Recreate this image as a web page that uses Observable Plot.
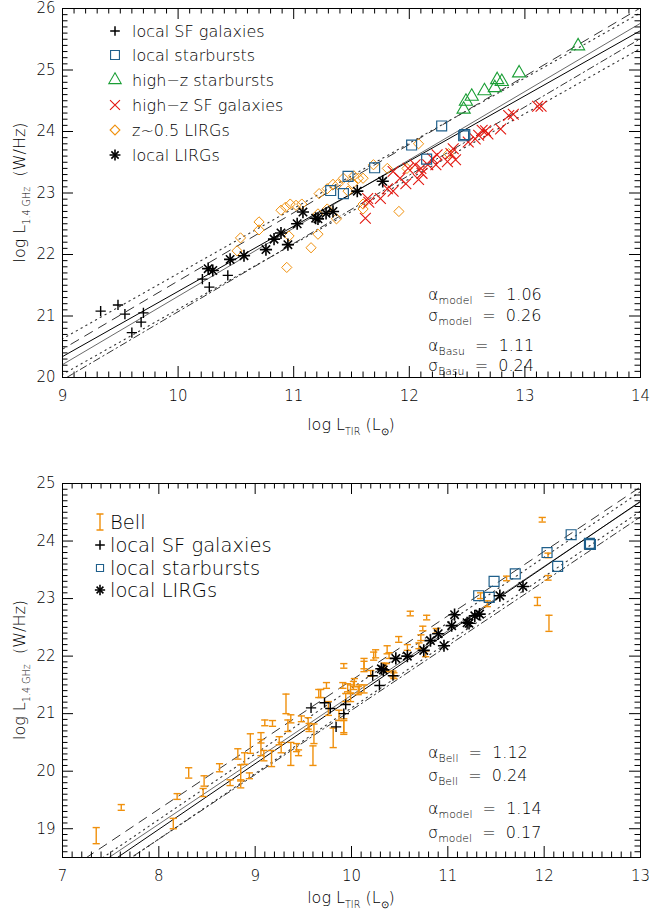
<!DOCTYPE html>
<html><head><meta charset="utf-8">
<script src="https://cdn.jsdelivr.net/npm/d3@7"></script>
<script src="https://cdn.jsdelivr.net/npm/@observablehq/plot@0.6"></script>
<style>
body{margin:0;background:#fff;}
#wrap{width:651px;}
svg{display:block;}
</style></head><body>
<div id="wrap"></div>
<script>
// ---------------- TOP PANEL DATA ----------------
const topLocalSF_x = [9.33, 9.48, 9.54, 9.60, 9.68, 9.70, 10.21, 10.27, 10.43];
const topLocalSF_y = [21.08, 21.18, 21.03, 20.73, 20.90, 21.05, 21.60, 21.47, 21.66];

const topStarburst_x = [11.32, 11.43, 11.47, 11.70, 12.02, 12.15, 12.28, 12.47, 12.48];
const topStarburst_y = [23.04, 22.99, 23.27, 23.41, 23.78, 23.55, 24.09, 23.93, 23.95];

const topHighzSB_x = [12.47, 12.49, 12.54, 12.65, 12.74, 12.76, 12.80, 12.95, 13.46];
const topHighzSB_y = [24.36, 24.49, 24.57, 24.66, 24.71, 24.84, 24.81, 24.95, 25.39];

const topHighzSF_x = [11.62, 11.64, 11.65, 11.75, 11.81, 11.86, 11.86, 11.92, 11.99, 12.05, 12.10, 12.11, 12.16, 12.20, 12.23, 12.24, 12.33, 12.36, 12.38, 12.51, 12.57, 12.60, 12.63, 12.66, 12.68, 12.79, 12.86, 12.90, 13.11, 13.14, 12.40, 11.97, 12.08];
const topHighzSF_y = [22.59, 22.91, 22.85, 22.91, 23.07, 23.03, 23.35, 23.24, 23.40, 23.46, 23.40, 23.32, 23.46, 23.56, 23.46, 23.62, 23.51, 23.64, 23.72, 23.83, 23.88, 23.94, 24.02, 24.01, 23.96, 24.04, 24.26, 24.28, 24.41, 24.41, 23.54, 23.15, 23.22];

const topZ05_x = [10.54, 10.51, 10.70, 10.70, 10.89, 10.93, 10.97, 11.02, 11.07, 10.96, 10.94, 11.15, 11.21, 11.22, 11.29, 11.34, 11.38, 11.43, 11.52, 11.56, 11.60, 11.51, 11.47, 11.60, 11.60, 11.37, 11.29, 11.21, 11.69, 11.81, 11.91, 12.08, 12.34, 11.98];
const topZ05_y = [22.27, 22.06, 22.53, 22.40, 22.72, 22.77, 22.82, 22.80, 22.82, 22.30, 21.79, 22.11, 22.33, 22.99, 23.07, 23.14, 23.14, 23.24, 23.28, 23.24, 23.24, 23.15, 23.03, 22.82, 22.74, 22.58, 22.74, 22.66, 23.46, 23.40, 22.70, 23.80, 23.64, 23.40];

const topLIRG_x = [10.26, 10.30, 10.45, 10.57, 10.76, 10.83, 10.89, 10.95, 11.03, 11.08, 11.19, 11.21, 11.28, 11.34, 11.55, 11.77];
const topLIRG_y = [21.77, 21.74, 21.92, 21.98, 22.08, 22.25, 22.35, 22.16, 22.50, 22.69, 22.59, 22.58, 22.67, 22.70, 23.03, 23.19];

// fits: [model, Basu]
const topFitSlope = [1.06, 1.11];
const topFitIntercept = [10.80, 10.22];
const topFitSpread = [0.29, 0.25];   // dotted (model) and dashed (Basu) band half-widths
const topStats = [["model", "1.06", "0.26"], ["Basu", "1.11", "0.24"]];

// ---------------- BOTTOM PANEL DATA ----------------
const botLocalSF_x = [9.58, 9.72, 9.78, 9.84, 9.94, 9.92, 10.22, 10.29, 10.43];
const botLocalSF_y = [21.10, 21.19, 21.09, 20.77, 21.16, 21.00, 21.66, 21.49, 21.66];

const botStarburst_x = [11.32, 11.43, 11.48, 11.70, 12.03, 12.14, 12.28, 12.47, 12.48];
const botStarburst_y = [23.05, 23.02, 23.30, 23.43, 23.80, 23.56, 24.11, 23.96, 23.94];

const botLIRG_x = [10.31, 10.33, 10.46, 10.58, 10.75, 10.82, 10.90, 10.96, 11.04, 11.07, 11.20, 11.22, 11.28, 11.33, 11.54, 11.78];
const botLIRG_y = [21.78, 21.76, 21.96, 22.00, 22.10, 22.27, 22.39, 22.18, 22.53, 22.72, 22.58, 22.57, 22.70, 22.73, 23.05, 23.21];

const bell_x = [7.35, 7.61, 8.15, 8.19, 8.31, 8.47, 8.46, 8.63, 8.74, 8.82, 8.85, 8.85, 8.94, 8.95, 8.89, 9.06, 9.10, 9.06, 9.18, 9.17, 9.09, 9.25, 9.27, 9.32, 9.34, 9.37, 9.37, 9.43, 9.45, 9.48, 9.55, 9.56, 9.60, 9.61, 9.66, 9.74, 9.76, 9.81, 9.87, 9.92, 9.92, 9.96, 10.02, 10.13, 10.34, 10.44, 10.20, 9.91, 10.25, 10.39, 10.49, 10.58, 10.72, 10.70, 10.77, 10.61, 10.78, 10.74, 10.88, 11.34, 11.41, 11.61, 11.93, 11.98, 12.04, 12.04, 12.05, 9.68, 9.99, 10.07, 10.13, 9.94, 10.13, 10.23, 10.37, 10.36, 10.43, 10.03, 9.99, 10.08, 9.92];
const bell_y = [18.88, 19.37, 19.09, 19.56, 19.97, 19.83, 19.63, 20.06, 19.80, 20.30, 19.97, 19.78, 19.92, 20.48, 20.22, 20.41, 20.84, 20.58, 20.83, 20.22, 20.27, 20.53, 20.41, 21.17, 20.79, 20.91, 20.30, 20.41, 20.32, 20.91, 20.83, 20.76, 20.27, 20.65, 21.35, 21.49, 21.09, 20.58, 20.97, 21.83, 20.79, 21.45, 21.49, 21.82, 21.83, 21.66, 21.70, 21.49, 22.04, 22.01, 22.29, 22.15, 22.32, 22.18, 22.04, 22.74, 22.67, 22.48, 22.44, 23.05, 22.91, 23.35, 22.95, 24.37, 23.36, 23.75, 22.57, 21.35, 21.43, 21.40, 21.43, 21.28, 21.87, 22.00, 22.11, 21.80, 21.69, 21.54, 21.28, 21.43, 20.76];
const bell_err = [0.14, 0.05, 0.09, 0.05, 0.09, 0.09, 0.07, 0.07, 0.05, 0.09, 0.14, 0.07, 0.05, 0.17, 0.10, 0.14, 0.05, 0.09, 0.05, 0.14, 0.09, 0.07, 0.09, 0.17, 0.10, 0.07, 0.20, 0.07, 0.05, 0.05, 0.10, 0.07, 0.17, 0.17, 0.07, 0.05, 0.12, 0.17, 0.09, 0.04, 0.12, 0.07, 0.07, 0.09, 0.05, 0.05, 0.05, 0.05, 0.07, 0.05, 0.05, 0.05, 0.05, 0.05, 0.05, 0.04, 0.04, 0.04, 0.04, 0.05, 0.05, 0.04, 0.07, 0.04, 0.04, 0.04, 0.14, 0.07, 0.07, 0.07, 0.07, 0.07, 0.09, 0.07, 0.07, 0.07, 0.05, 0.07, 0.07, 0.07, 0.12];

// fits: [model, Bell]
const botFitSlope = [1.14, 1.12];
const botFitIntercept = [9.87, 10.12];
const botFitSpread = [0.17, 0.26];
const botStats = [["Bell", "1.12", "0.24"], ["model", "1.14", "0.17"]];

// ---------------- STYLE ----------------
const FONT = "DejaVu Sans";
const ORANGE = "#f0900c", BLUE = "#1f5f8b", GREEN = "#1a9e35", RED = "#e3170f", GRAY = "#6a6a6a";
const W = 651, ML = 62, MR = 11;

const zip = (xs, ys) => xs.map((x, i) => ({x, y: ys[i]}));

function frameTicks(xd, yd, pw, ph) {
  const isInt = d => Math.abs(d - Math.round(d)) < 1e-6;
  const xs = d3.range(Math.round(xd[0]*10), Math.round(xd[1]*10) + 1).map(d => d/10);
  const ys = d3.range(Math.round(yd[0]*10), Math.round(yd[1]*10) + 1).map(d => d/10);
  const xMaj = xs.filter(isInt), xMin = xs.filter(d => !isInt(d));
  const yMaj = ys.filter(isInt), yMin = ys.filter(d => !isInt(d));
  const M = 11, m = 5.5, o = {stroke: "#000", strokeWidth: 1};
  return {xMaj, yMaj, marks: [
    Plot.tickX(xMaj, {x: d => d, insetTop: ph - M, ...o}),
    Plot.tickX(xMaj, {x: d => d, insetBottom: ph - M, ...o}),
    Plot.tickX(xMin, {x: d => d, insetTop: ph - m, ...o}),
    Plot.tickX(xMin, {x: d => d, insetBottom: ph - m, ...o}),
    Plot.tickY(yMaj, {y: d => d, insetRight: pw - M, ...o}),
    Plot.tickY(yMaj, {y: d => d, insetLeft: pw - M, ...o}),
    Plot.tickY(yMin, {y: d => d, insetRight: pw - m, ...o}),
    Plot.tickY(yMin, {y: d => d, insetLeft: pw - m, ...o})
  ]};
}

function fitLines(xd, slopes, intercepts, spreads, colors) {
  const out = [];
  const seg = (a, b, off) => [xd[0] - 1, xd[1] + 1].map(x => ({x, y: a*x + b + off}));
  out.push(Plot.line(seg(slopes[1], intercepts[1], 0), {x: "x", y: "y", stroke: colors[1], strokeWidth: 1, clip: true}));
  out.push(Plot.line(seg(slopes[0], intercepts[0], 0), {x: "x", y: "y", stroke: colors[0], strokeWidth: 1, clip: true}));
  // literature band: dashed above, dash-dot below; model band: dotted
  out.push(Plot.line(seg(slopes[1], intercepts[1], spreads[1]), {x: "x", y: "y", stroke: "#333", strokeWidth: 1, strokeDasharray: "9,7", clip: true}));
  out.push(Plot.line(seg(slopes[1], intercepts[1], -spreads[1]), {x: "x", y: "y", stroke: "#333", strokeWidth: 1, strokeDasharray: "7,3.5,1.5,3.5", clip: true}));
  for (const s of [1, -1]) {
    out.push(Plot.line(seg(slopes[0], intercepts[0], s*spreads[0]), {x: "x", y: "y", stroke: "#333", strokeWidth: 1.1, strokeDasharray: "1.3,4.2", clip: true}));
  }
  return out;
}

function richText(g, x, y, parts, {size = 16, anchor = "start", rotate = 0, sub = 0.6, shift = 0.32} = {}) {
  const t = g.append("text")
    .attr("transform", `translate(${x},${y}) rotate(${rotate})`)
    .attr("text-anchor", anchor).attr("font-family", FONT).attr("font-weight", 200)
    .attr("font-size", size).attr("fill", "#000").style("white-space", "pre");
  let cur = 0;
  for (const [s, isSub] of parts) {
    const target = isSub ? size * shift : 0;
    const sp = t.append("tspan").text(s).attr("dy", target - cur);
    if (isSub) sp.attr("font-size", size * sub);
    cur = target;
  }
  return t;
}

function symbolPath(type, r) { return d3.symbol(type, r * r * Math.PI)(); }

const capSymbol = {draw(ctx, size) { const w = Math.sqrt(size / Math.PI); ctx.moveTo(-w, 0); ctx.lineTo(w, 0); }};

function makePanel({xd, yd, height, mt, mb, marks}) {
  const pw = W - ML - MR, ph = height - mt - mb;
  const t = frameTicks(xd, yd, pw, ph);
  return Plot.plot({
    width: W, height, marginLeft: ML, marginRight: MR, marginTop: mt, marginBottom: mb,
    style: {fontFamily: FONT, fontWeight: 200, background: "#fff", color: "#000"},
    x: {domain: xd, label: null},
    y: {domain: yd, label: null},
    marks: [
      ...marks,
      ...t.marks,
      Plot.frame({stroke: "#000", strokeWidth: 1}),
      Plot.axisX(t.xMaj, {tickSize: 0, tickPadding: 13, fontSize: 15, label: null, tickFormat: "d"}),
      Plot.axisY(t.yMaj, {tickSize: 0, tickPadding: 7, fontSize: 15, label: null, tickFormat: "d"})
    ]
  });
}

// ---------------- TOP PANEL ----------------
const TXD = [9, 14], TYD = [20, 26];
const sym = (data, symbol, stroke, r, sw = 1) => Plot.dot(data, {x: "x", y: "y", symbol, stroke, fill: "none", r, strokeWidth: sw});
const topMarks = [
  ...fitLines(TXD, topFitSlope, topFitIntercept, topFitSpread, ["#000", GRAY]),
  sym(zip(topZ05_x, topZ05_y), "diamond2", ORANGE, 4.6),
  sym(zip(topHighzSF_x, topHighzSF_y), "times", RED, 5.0, 1.1),
  sym(zip(topStarburst_x, topStarburst_y), "square", BLUE, 5.6, 1.2),
  sym(zip(topHighzSB_x, topHighzSB_y), "triangle", GREEN, 4.9, 1.1),
  sym(zip(topLocalSF_x, topLocalSF_y), "plus", "#000", 3.4, 1.4),
  sym(zip(topLIRG_x, topLIRG_y), "plus", "#000", 4.0, 1.6),
  sym(zip(topLIRG_x, topLIRG_y), "times", "#000", 3.9, 1.6)
];
const p1 = makePanel({xd: TXD, yd: TYD, height: 450, mt: 8, mb: 73, marks: topMarks});

// ---------------- BOTTOM PANEL ----------------
const BXD = [7, 13], BYD = [18.5, 25];
const bell = bell_x.map((x, i) => ({x, y: bell_y[i], lo: bell_y[i] - bell_err[i], hi: bell_y[i] + bell_err[i]}));
const botMarks = [
  ...fitLines(BXD, botFitSlope, botFitIntercept, botFitSpread, ["#000", GRAY]),
  Plot.ruleX(bell, {x: "x", y1: "lo", y2: "hi", stroke: ORANGE, strokeWidth: 1.4}),
  Plot.dot(bell, {x: "x", y: "lo", symbol: capSymbol, r: 3.6, stroke: ORANGE, fill: "none", strokeWidth: 1.4}),
  Plot.dot(bell, {x: "x", y: "hi", symbol: capSymbol, r: 3.6, stroke: ORANGE, fill: "none", strokeWidth: 1.4}),
  sym(zip(botStarburst_x, botStarburst_y), "square", BLUE, 5.6, 1.2),
  sym(zip(botLocalSF_x, botLocalSF_y), "plus", "#000", 3.4, 1.4),
  sym(zip(botLIRG_x, botLIRG_y), "plus", "#000", 4.0, 1.6),
  sym(zip(botLIRG_x, botLIRG_y), "times", "#000", 3.9, 1.6)
];
const p2 = makePanel({xd: BXD, yd: BYD, height: 465, mt: 33, mb: 58, marks: botMarks});

const wrap = document.getElementById("wrap");
wrap.appendChild(p1);
wrap.appendChild(p2);

// ---------------- TEXT OVERLAYS ----------------
function axisTitles(svg, frameTop, frameBottom, xTitleY) {
  const g = d3.select(svg).append("g");
  const cx = ML + (W - ML - MR) / 2;
  richText(g, cx, xTitleY, [["log L"], ["TIR", true], [" (L"], ["\u2299", true], [")"]], {size: 16, anchor: "middle"});
  richText(g, 25, (frameTop + frameBottom) / 2, [["log L"], ["1.4 GHz", true], ["  (W/Hz)"]], {size: 16, anchor: "middle", rotate: -90});
}
axisTitles(p1, 8, 377, 430);
axisTitles(p2, 33, 407, 453);

// top legend
{
  const g = d3.select(p1).append("g");
  const items = [
    ["local SF galaxies", d3.symbolPlus, "#000", 3.2],
    ["local starbursts", d3.symbolSquare, BLUE, 5.0],
    ["high\u2212z starbursts", d3.symbolTriangle, GREEN, 4.6],
    ["high\u2212z SF galaxies", d3.symbolTimes, RED, 4.6],
    ["z~0.5 LIRGs", d3.symbolDiamond2, ORANGE, 4.4],
    ["local LIRGs", null, "#000", 3.6]
  ];
  const ys = [31, 55, 80, 105, 130, 155];
  items.forEach(([label, type, color, r], i) => {
    const y = ys[i];
    if (type) g.append("path").attr("d", symbolPath(type, r)).attr("transform", `translate(115,${y})`).attr("fill", "none").attr("stroke", color).attr("stroke-width", type === d3.symbolPlus ? 1.5 : 1.1);
    else {
      g.append("path").attr("d", symbolPath(d3.symbolPlus, 3.6)).attr("transform", `translate(115,${y})`).attr("fill", "none").attr("stroke", "#000").attr("stroke-width", 1.6);
      g.append("path").attr("d", symbolPath(d3.symbolTimes, 3.4)).attr("transform", `translate(115,${y})`).attr("fill", "none").attr("stroke", "#000").attr("stroke-width", 1.6);
    }
    richText(g, 132, y + 6, [[label]], {size: 16});
  });
}
// bottom legend (svg coordinates of panel 2)
{
  const g = d3.select(p2).append("g");
  const ys = [72, 95, 118, 140];
  g.append("path").attr("d", `M100,${ys[0]-8}V${ys[0]+8}M96.5,${ys[0]-8}H103.5M96.5,${ys[0]+8}H103.5`).attr("stroke", ORANGE).attr("stroke-width", 1.4).attr("fill", "none");
  g.append("path").attr("d", symbolPath(d3.symbolPlus, 3.2)).attr("transform", `translate(100,${ys[1]})`).attr("fill", "none").attr("stroke", "#000").attr("stroke-width", 1.5);
  g.append("path").attr("d", symbolPath(d3.symbolSquare, 4.0)).attr("transform", `translate(100,${ys[2]})`).attr("fill", "none").attr("stroke", BLUE).attr("stroke-width", 1.1);
  g.append("path").attr("d", symbolPath(d3.symbolPlus, 3.4)).attr("transform", `translate(100,${ys[3]})`).attr("fill", "none").attr("stroke", "#000").attr("stroke-width", 1.6);
  g.append("path").attr("d", symbolPath(d3.symbolTimes, 3.2)).attr("transform", `translate(100,${ys[3]})`).attr("fill", "none").attr("stroke", "#000").attr("stroke-width", 1.6);
  ["Bell", "local SF galaxies", "local starbursts", "local LIRGs"].forEach((s, i) => richText(g, 110, ys[i] + 7, [[s]], {size: 19.5}));
}
// statistics annotations
function stats(svg, rows, baselines) {
  const g = d3.select(svg).append("g");
  rows.forEach(([name, a, s], i) => {
    richText(g, 428, baselines[2*i], [["\u03b1"], [name, true], ["  =  " + a]], {size: 16, sub: 0.68, shift: 0.28});
    richText(g, 428, baselines[2*i + 1], [["\u03c3"], [name, true], ["  =  " + s]], {size: 16, sub: 0.68, shift: 0.28});
  });
}
stats(p1, topStats, [300, 321, 351, 371]);
stats(p2, botStats, [308, 331, 364, 388]);
</script>
</body></html>
